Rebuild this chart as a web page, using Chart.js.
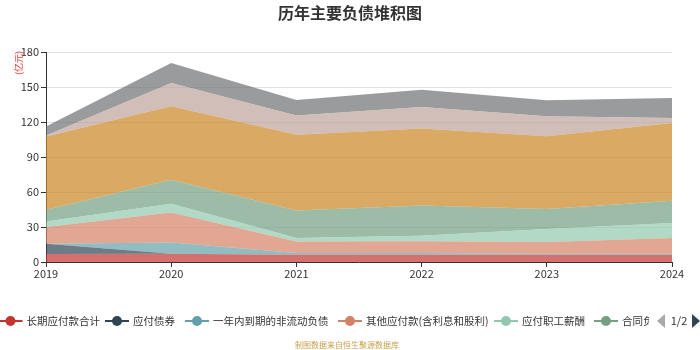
<!doctype html>
<html>
<head>
	<meta charset="utf-8">
	<title>历年主要负债堆积图</title>
	<script src="https://cdn.jsdelivr.net/npm/chart.js@4.4.1/dist/chart.umd.min.js"></script>
	<style>
		html, body { margin: 0; padding: 0; background: #fff; }
		#wrap { width: 700px; height: 350px; }
	</style>
</head>
<body>
	<div id="wrap"><canvas id="canvas" width="700" height="350"></canvas></div>
	<script>
		// data (亿元)
		var years = ['2019', '2020', '2021', '2022', '2023', '2024'];
		var seriesNames = ['长期应付款合计', '应付债券', '一年内到期的非流动负债', '其他应付款(含利息和股利)',
			'应付职工薪酬', '合同负债', '应付票据及应付账款', '短期借款', '长期借款'];
		var changqiYingfu = [6.8, 7.1, 6.3, 6.3, 6.3, 6.3];
		var yingfuZhaiquan = [8.9, 0, 0, 0, 0, 0];
		var yinianDaoqi = [0, 9.7, 1.4, 1.4, 0.8, 0.8];
		var qitaYingfu = [14.3, 25.7, 9.9, 10, 10, 13.5];
		var zhigongXinchou = [4.8, 7.5, 2.9, 4.8, 11.2, 12.8];
		var hetongFuzhai = [10, 20.5, 23.7, 26, 17.1, 19.1];
		var yingfuZhangkuan = [62.8, 62.9, 64.8, 66, 62.3, 66.6];
		var duanqiJiekuan = [0.8, 20, 16.6, 18.4, 17.2, 4.3];
		var changqiJiekuan = [7.8, 17.2, 13.3, 14.8, 13.7, 17.2];
		var yTicks = [0, 30, 60, 90, 120, 150, 180];

		var allSeries = [changqiYingfu, yingfuZhaiquan, yinianDaoqi, qitaYingfu, zhigongXinchou,
			hetongFuzhai, yingfuZhangkuan, duanqiJiekuan, changqiJiekuan];
		var colors = ['#c23531', '#2f4554', '#61a0a8', '#d48265', '#91c7ae', '#749f83', '#ca8622', '#bda29a', '#6e7074'];

		function alpha(hex, a) {
			var r = parseInt(hex.substr(1, 2), 16), g = parseInt(hex.substr(3, 2), 16), b = parseInt(hex.substr(5, 2), 16);
			return 'rgba(' + r + ',' + g + ',' + b + ',' + a + ')';
		}

		var datasets = [];
		allSeries.forEach(function (d, i) {
			datasets.push({
				label: seriesNames[i],
				data: d,
				backgroundColor: alpha(colors[i], 0.7),
				borderColor: colors[i],
				borderWidth: 0,
				pointRadius: 0,
				pointHoverRadius: 0,
				tension: 0,
				fill: i === 0 ? 'origin' : '-1'
			});
		});

		var CJK = '"Noto Sans CJK SC", "Noto Sans", sans-serif';
		// legend icon centres on page 1
		var legendX = [10.5, 117, 197, 350, 506, 606];

		// title, unit, paged legend and source line
		var extras = {
			id: 'extras',
			afterDraw: function (chart) {
				var ctx = chart.ctx;
				ctx.save();
				ctx.fillStyle = '#333';
				ctx.font = 'bold 16px ' + CJK;
				ctx.textAlign = 'center';
				ctx.textBaseline = 'middle';
				ctx.fillText('历年主要负债堆积图', 350, 13);

				ctx.save();
				ctx.translate(19, 63);
				ctx.rotate(-Math.PI / 2);
				ctx.fillStyle = '#ff3333';
				ctx.font = '9px ' + CJK;
				ctx.fillText('(亿元)', 0, 0);
				ctx.restore();

				// legend page 1
				ctx.save();
				ctx.beginPath();
				ctx.rect(0, 300, 649, 40);
				ctx.clip();
				ctx.font = '10.5px ' + CJK;
				ctx.textAlign = 'left';
				var y = 321;
				legendX.forEach(function (cx, i) {
					ctx.strokeStyle = colors[i];
					ctx.lineWidth = 2;
					ctx.beginPath();
					ctx.moveTo(cx - 12, y);
					ctx.lineTo(cx + 12, y);
					ctx.stroke();
					ctx.fillStyle = colors[i];
					ctx.beginPath();
					ctx.arc(cx, y, 5, 0, Math.PI * 2);
					ctx.fill();
					ctx.fillStyle = '#333';
					ctx.fillText(seriesNames[i], cx + 16, y);
				});
				ctx.restore();

				ctx.fillStyle = '#aaa';
				ctx.beginPath();
				ctx.moveTo(665, 314);
				ctx.lineTo(657, 321);
				ctx.lineTo(665, 328);
				ctx.fill();
				ctx.fillStyle = '#2f4554';
				ctx.beginPath();
				ctx.moveTo(692, 314);
				ctx.lineTo(700, 321);
				ctx.lineTo(692, 328);
				ctx.fill();
				ctx.fillStyle = '#333';
				ctx.font = '11px ' + CJK;
				ctx.textAlign = 'center';
				ctx.fillText('1/2', 679, 321);

				ctx.fillStyle = '#c9a04a';
				ctx.font = '8px ' + CJK;
				ctx.fillText('制图数据来自恒生聚源数据库', 347, 345);
				ctx.restore();
			}
		};

		var ctx = document.getElementById('canvas').getContext('2d');
		window.myChart = new Chart(ctx, {
			type: 'line',
			data: { labels: years, datasets: datasets },
			plugins: [extras],
			options: {
				responsive: false,
				animation: false,
				layout: { padding: { top: 52, right: 28, bottom: 68, left: 0 } },
				plugins: {
					legend: { display: false },
					title: { display: false },
					tooltip: { enabled: false }
				},
				scales: {
					x: {
						offset: false,
						grid: { drawOnChartArea: false, tickColor: '#333', tickLength: 5 },
						border: { color: '#333' },
						ticks: { color: '#333', font: { size: 11, family: CJK }, padding: 0, maxRotation: 0 },
						afterFit: function (s) { s.height = 20; }
					},
					y: {
						stacked: true,
						min: 0,
						max: 180,
						afterBuildTicks: function (s) { s.ticks = yTicks.map(function (v) { return { value: v }; }); },
						grid: { color: '#e0e0e0', tickColor: '#333', tickLength: 5 },
						border: { color: '#333' },
						ticks: { color: '#333', font: { size: 11, family: CJK }, padding: 2 },
						afterFit: function (s) { s.width = 46; }
					}
				}
			}
		});
	</script>
</body>
</html>
